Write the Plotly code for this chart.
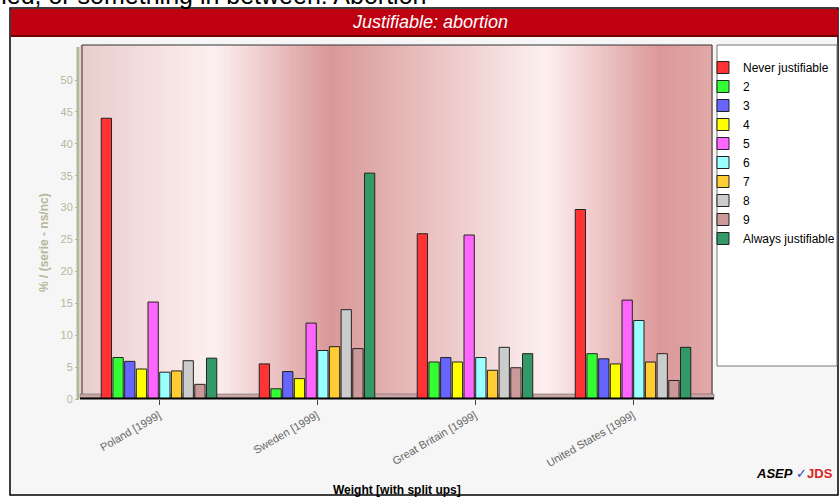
import plotly.graph_objects as go

# ---------------- data ----------------
categories = ["Poland [1999]", "Sweden [1999]", "Great Britain [1999]", "United States [1999]"]
series_names = ["Never justifiable", "2", "3", "4", "5", "6", "7", "8", "9", "Always justifiable"]
never_justifiable = [44.0, 5.5, 25.9, 29.7]
s2 = [6.5, 1.6, 5.8, 7.1]
s3 = [5.9, 4.3, 6.5, 6.3]
s4 = [4.7, 3.2, 5.8, 5.5]
s5 = [15.2, 11.9, 25.7, 15.5]
s6 = [4.2, 7.6, 6.5, 12.3]
s7 = [4.4, 8.2, 4.5, 5.8]
s8 = [6.0, 14.0, 8.1, 7.1]
s9 = [2.3, 7.9, 4.9, 2.9]
always_justifiable = [6.4, 35.4, 7.1, 8.1]
series_values = [never_justifiable, s2, s3, s4, s5, s6, s7, s8, s9, always_justifiable]
y_ticks = [0, 5, 10, 15, 20, 25, 30, 35, 40, 45, 50]

colors = ["#ff3333", "#33ff33", "#6666ff", "#ffff00", "#ff66ff",
          "#99ffff", "#ffcc33", "#cccccc", "#cc9999", "#339966"]

W, H = 840, 499
L, R, T, B = 80, 712, 45, 399


def px(x):
    return (x - L) / (R - L)


def py(y):
    return 1 - (y - T) / (B - T)


fig = go.Figure()
for name, vals, col in zip(series_names, series_values, colors):
    fig.add_trace(go.Bar(
        x=categories, y=vals, name=name,
        marker=dict(color=col, line=dict(color="#222222", width=1)),
    ))

shapes = []
# page frame fill
shapes.append(dict(type="rect", xref="paper", yref="paper", x0=px(10), x1=px(838), y0=py(495), y1=py(8),
                   fillcolor="#f6f6f6", line=dict(color="#000000", width=1.5), layer="below"))

# gradient wall background
keys = [(80, (0xe9, 0xcc, 0xcc)), (215, (0xfd, 0xf0, 0xf0)), (330, (0xd9, 0x98, 0x98)),
        (545, (0xfd, 0xf0, 0xf0)), (660, (0xdc, 0x98, 0x98)), (712, (0xe2, 0xa8, 0xa8))]


def grad(x):
    for (xa, ca), (xb, cb) in zip(keys[:-1], keys[1:]):
        if xa <= x <= xb:
            t = (x - xa) / (xb - xa)
            c = [round(a + (b - a) * t) for a, b in zip(ca, cb)]
            return "rgb(%d,%d,%d)" % tuple(c)
    return "rgb(%d,%d,%d)" % keys[-1][1]


step = 3
x = L
while x < R:
    x2 = min(x + step, R)
    shapes.append(dict(type="rect", xref="paper", yref="paper", x0=px(x), x1=px(x2) + 0.001,
                       y0=py(B), y1=py(T), fillcolor=grad(x + step / 2), line=dict(width=0), layer="below"))
    x = x2

# wall outline
shapes.append(dict(type="rect", xref="paper", yref="paper", x0=px(82), x1=px(712), y0=py(396), y1=py(45),
                   line=dict(color="#333333", width=1), layer="below"))
# floor strip
shapes.append(dict(type="rect", xref="paper", yref="paper", x0=px(80), x1=px(714), y0=py(398), y1=py(394),
                   fillcolor="#c9a6a6", line=dict(color="#555555", width=0.5), layer="below"))
shapes.append(dict(type="line", xref="paper", yref="paper", x0=px(80), x1=px(714), y0=py(398.5), y1=py(398.5),
                   line=dict(color="#000000", width=2), layer="above"))
# left axis bar
shapes.append(dict(type="line", xref="paper", yref="paper", x0=px(78), x1=px(78), y0=py(399), y1=py(47),
                   line=dict(color="#b6b69a", width=3), layer="above"))

# title bar
shapes.append(dict(type="rect", xref="paper", yref="paper", x0=px(11), x1=px(838), y0=py(35), y1=py(9),
                   fillcolor="#bf0011", line=dict(width=0), layer="above"))
shapes.append(dict(type="line", xref="paper", yref="paper", x0=px(11), x1=px(838), y0=py(36), y1=py(36),
                   line=dict(color="#6e0000", width=2), layer="above"))
# legend box
shapes.append(dict(type="rect", xref="paper", yref="paper", x0=px(717), x1=px(837), y0=py(366), y1=py(45),
                   fillcolor="#ffffff", line=dict(color="#777777", width=1), layer="below"))

annotations = [
    dict(text="Please tell me for each of the following statements whether you think it can always be justified, never be justified, or something in between: Abortion",
         xref="paper", yref="paper", x=px(428), y=py(11), xanchor="right", yanchor="bottom",
         showarrow=False, font=dict(family="Arial", size=25, color="#000000")),
    dict(text="<i>Justifiable: abortion</i>", xref="paper", yref="paper", x=px(430), y=py(22),
         xanchor="center", yanchor="middle", showarrow=False,
         font=dict(family="Arial", size=18, color="#ffffff")),
    dict(text="<b>% / (serie - ns/nc)</b>", xref="paper", yref="paper", x=px(44), y=py(243),
         xanchor="center", yanchor="middle", textangle=-90, showarrow=False,
         font=dict(family="Arial", size=12, color="#b6b69a")),
    dict(text="<b>Weight [with split ups]</b>", xref="paper", yref="paper", x=px(397), y=py(490),
         xanchor="center", yanchor="middle", showarrow=False,
         font=dict(family="Arial", size=12, color="#000000")),
    dict(text="<b><i>ASEP</i></b> <span style='color:#2244cc'>✓</span><b><span style='color:#dd2222'>JDS</span></b>",
         xref="paper", yref="paper", x=px(794), y=py(473), xanchor="center", yanchor="middle",
         showarrow=False, font=dict(family="Arial", size=13, color="#000000")),
]

fig.update_layout(
    width=W, height=H,
    margin=dict(l=L, r=W - R, t=T, b=H - B, pad=0, autoexpand=False),
    paper_bgcolor="#ffffff",
    plot_bgcolor="rgba(0,0,0,0)",
    barmode="group", bargap=0.26, bargroupgap=0.12,
    showlegend=True,
    legend=dict(x=px(703), y=py(53), xanchor="left", yanchor="top",
                bgcolor="rgba(0,0,0,0)", borderwidth=0,
                font=dict(family="Arial", size=12, color="#000000"),
                tracegroupgap=0, itemwidth=30),
    xaxis=dict(type="category", range=[-0.5, 3.5], showline=False, showgrid=False,
               ticks="outside", ticklen=5, tickcolor="#444444", tickwidth=1,
               tickangle=-30, tickfont=dict(family="Arial", size=11, color="#666666")),
    yaxis=dict(range=[0, (B - T) / 6.38], tickvals=y_ticks, showgrid=False, zeroline=False,
               showline=False, ticks="outside", ticklen=4, tickcolor="#b6b69a",
               tickfont=dict(family="Arial", size=11, color="#b6b69a")),
    shapes=shapes,
    annotations=annotations,
)

fig.write_html("out.html", config={"displayModeBar": False},
               post_script="document.body.style.margin='0';document.body.style.overflow='hidden';")
